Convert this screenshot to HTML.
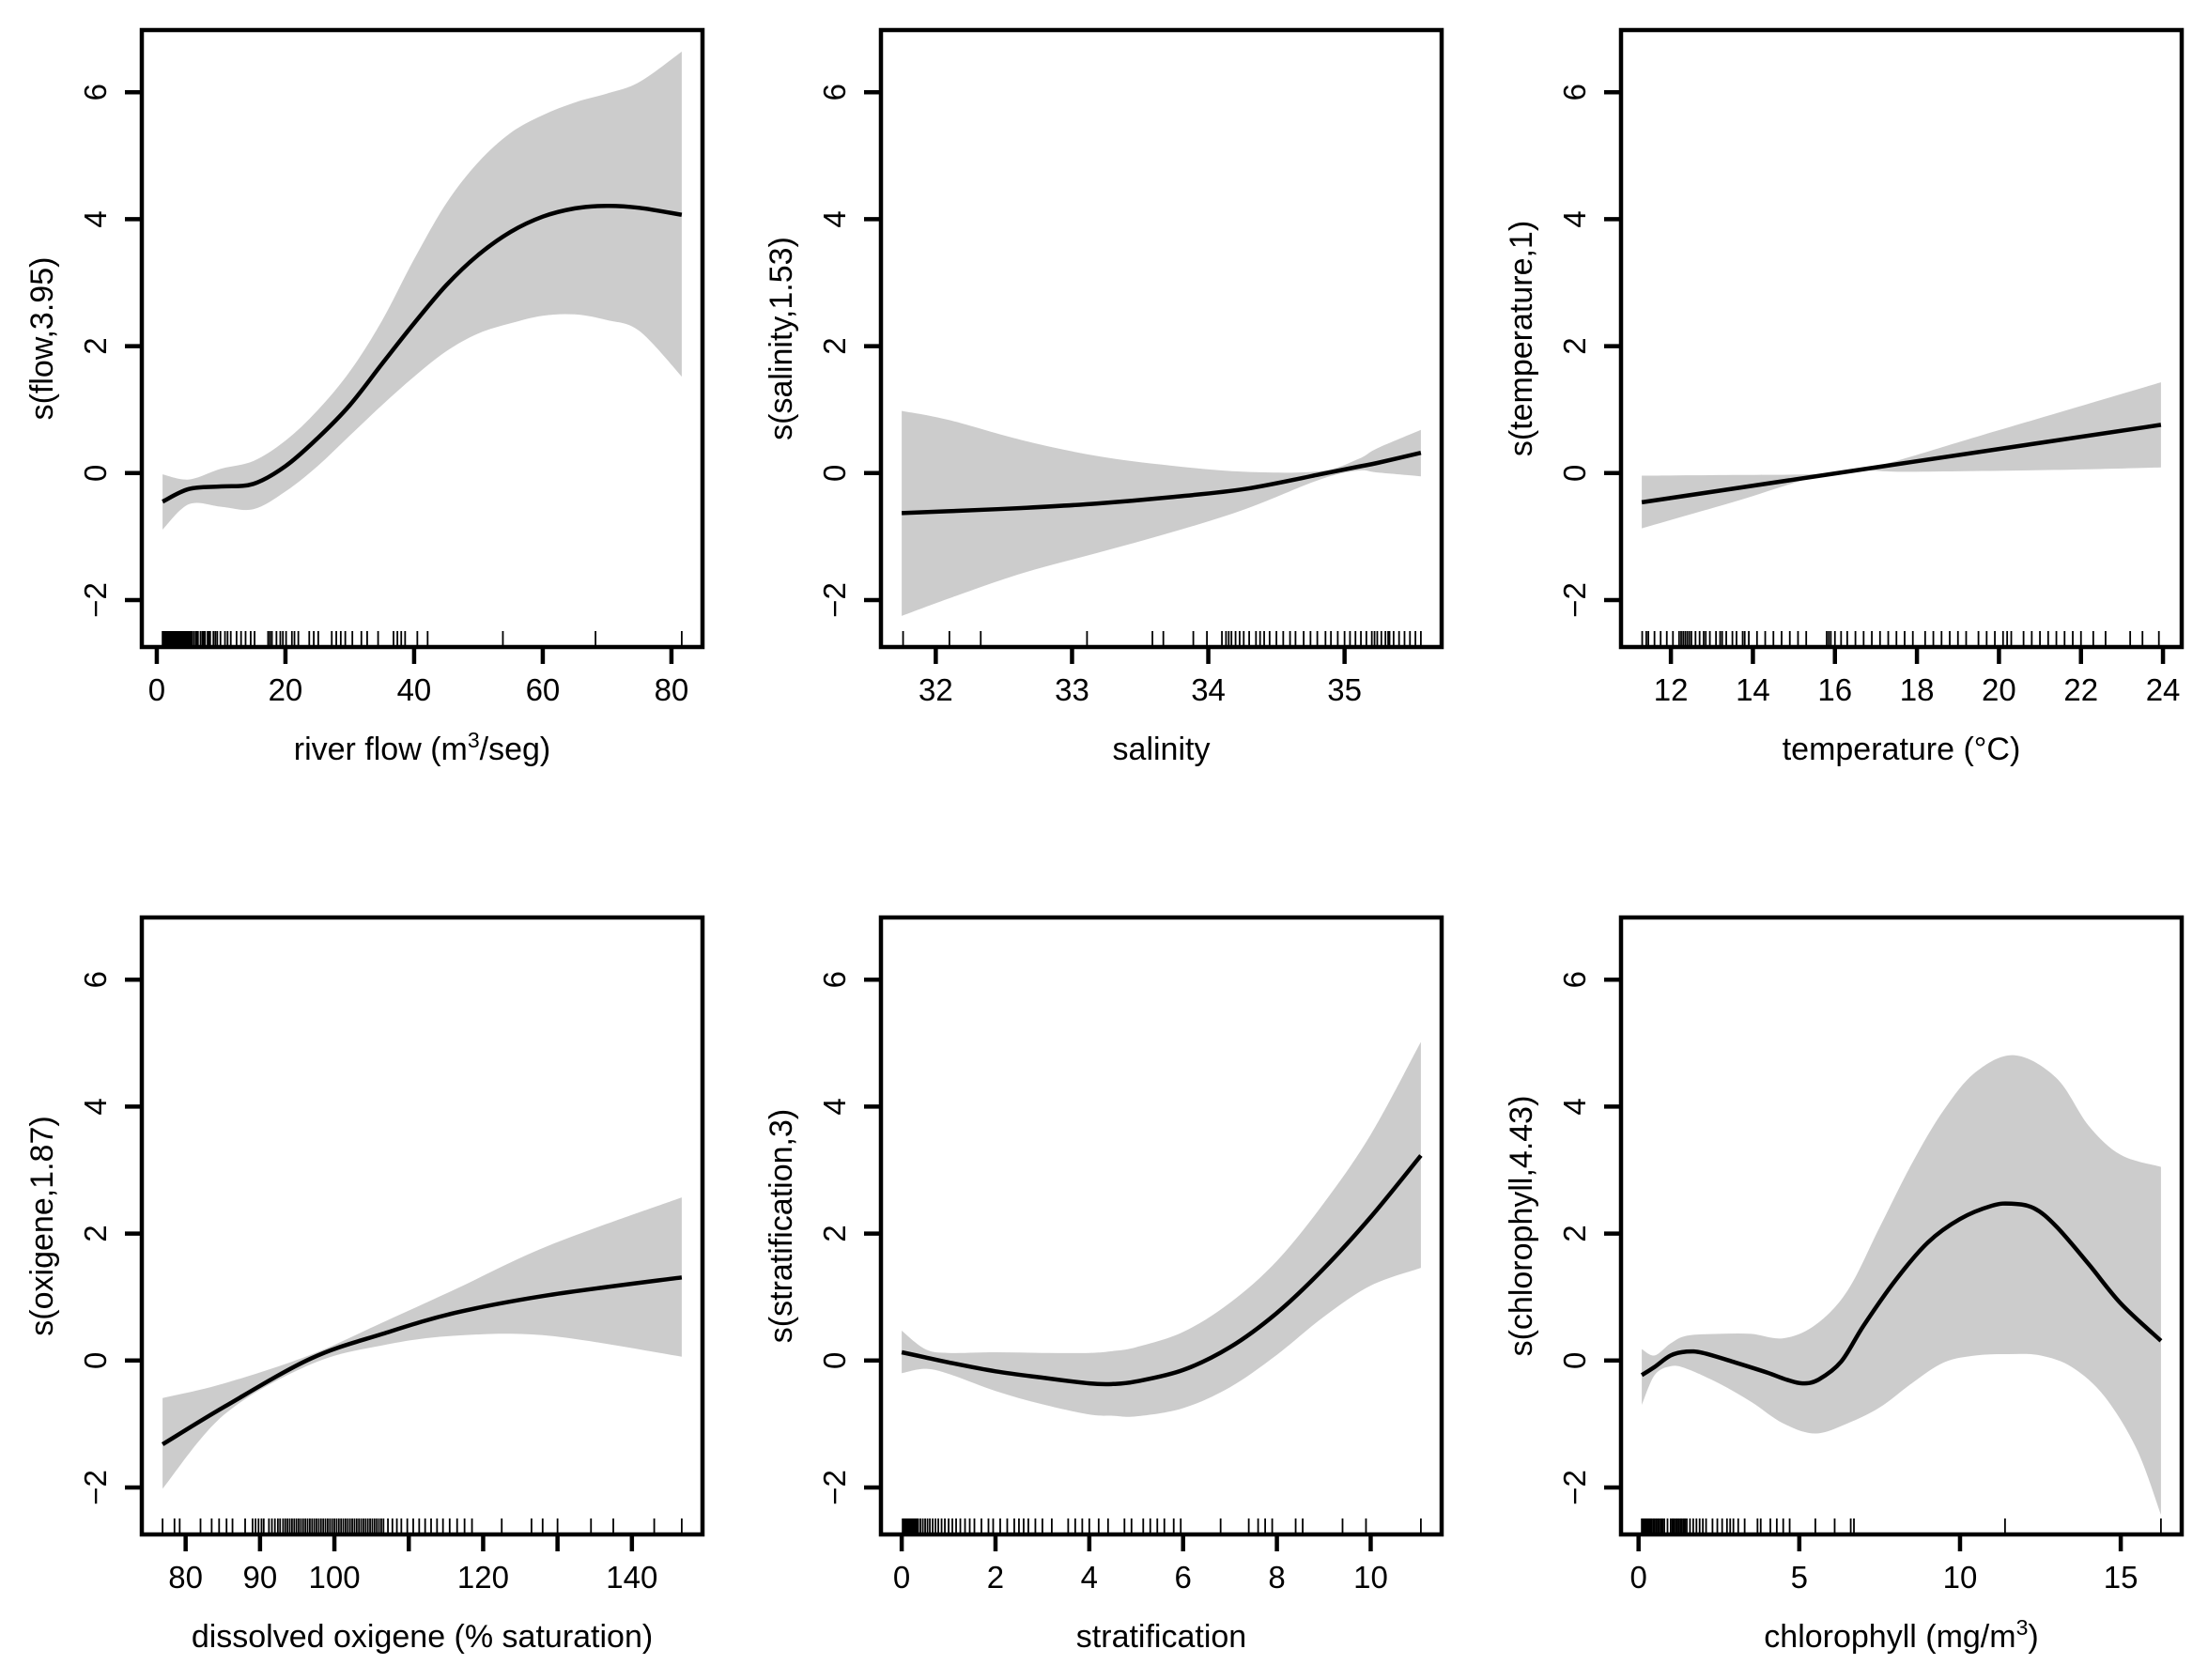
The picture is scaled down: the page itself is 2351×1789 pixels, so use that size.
<!DOCTYPE html>
<html><head><meta charset="utf-8">
<style>
html,body{margin:0;padding:0;background:#fff;}
svg text{font-family:"Liberation Sans",Arial,sans-serif;fill:#000;}
</style></head>
<body>
<svg id="fig" xmlns="http://www.w3.org/2000/svg" width="2351" height="1784" viewBox="0 0 2351 1784"></svg>
<script>
// ---- shared y axis ----
const yTicks = [-2, 0, 2, 4, 6];
const yLim = [-2.38, 6.62];

// ---- panel 1: flow ----
const flowX = [0.9, 5, 10, 15, 20, 25, 30, 35, 40, 45, 50, 55, 60, 65, 70, 75, 81.6];
const flowFit = [-0.45, -0.25, -0.21, -0.17, 0.11, 0.55, 1.07, 1.72, 2.36, 2.96, 3.44, 3.8, 4.04, 4.17, 4.21, 4.18, 4.07];
const flowUp = [-0.02, -0.1, 0.07, 0.19, 0.51, 0.99, 1.6, 2.4, 3.37, 4.25, 4.9, 5.36, 5.64, 5.84, 5.98, 6.16, 6.64];
const flowLo = [-0.89, -0.49, -0.53, -0.57, -0.29, 0.11, 0.59, 1.07, 1.52, 1.92, 2.2, 2.36, 2.48, 2.5, 2.41, 2.24, 1.52];
const flowRug = [0.9,1.0,1.1,1.2,1.3,1.4,1.5,1.6,1.7,1.8,1.9,2.0,2.1,2.2,2.3,2.4,2.5,2.6,2.7,2.8,2.9,3.0,3.1,3.2,3.3,3.4,3.5,3.6,3.7,3.8,3.9,4.0,4.1,4.2,4.3,4.4,4.5,4.6,4.7,4.8,4.9,5.0,5.2,5.4,5.5,5.8,6.1,6.2,6.4,6.8,7.1,7.3,7.5,7.9,8.1,8.3,8.8,9.1,9.4,9.9,10.6,11.0,11.5,12.4,13.1,13.8,14.6,15.2,17.3,17.6,17.9,18.6,19.2,19.6,20.1,21.0,21.4,22.0,23.7,24.4,25.1,27.2,27.9,28.6,29.3,30.4,31.8,32.7,34.4,36.8,37.4,38.0,38.6,40.5,42.1,53.8,68.2,81.6];
const flowTicks = [0, 20, 40, 60, 80];

// ---- panel 2: salinity ----
const salX = [31.75, 32.09, 32.63, 33.18, 33.72, 34.27, 34.82, 35.1, 35.24, 35.56];
const salFit = [-0.63, -0.6, -0.55, -0.48, -0.38, -0.25, -0.02, 0.1, 0.16, 0.32];
const salUp = [0.98, 0.84, 0.52, 0.27, 0.12, 0.02, 0.03, 0.22, 0.39, 0.68];
const salLo = [-2.25, -1.98, -1.58, -1.26, -0.94, -0.57, -0.1, 0.04, 0.01, -0.05];
const salRug = [31.76,32.1,32.33,33.11,33.59,33.67,33.89,33.99,34.1,34.13,34.15,34.17,34.2,34.23,34.26,34.3,34.35,34.38,34.41,34.45,34.5,34.55,34.6,34.64,34.7,34.75,34.8,34.86,34.9,34.95,35.0,35.04,35.08,35.12,35.16,35.2,35.22,35.24,35.27,35.3,35.32,35.33,35.36,35.4,35.44,35.48,35.52,35.56];
const salTicks = [32, 33, 34, 35];

// ---- panel 3: temperature ----
const tempX = [11.29, 23.95];
const tempFit = [-0.46, 0.76];
const tempUpX = [11.29, 13.5, 15.7, 16.96, 19.6, 23.95];
const tempUp = [-0.04, -0.03, -0.01, 0.1, 0.6, 1.43];
const tempLoX = [11.29, 13.5, 16.0, 17.83, 21.35, 23.95];
const tempLo = [-0.87, -0.46, 0.01, 0.02, 0.05, 0.09];
const tempRug = [11.3,11.4,11.45,11.6,11.75,11.9,12.05,12.2,12.25,12.3,12.35,12.4,12.45,12.5,12.6,12.7,12.8,12.85,12.95,13.1,13.2,13.25,13.35,13.5,13.6,13.75,13.8,13.9,14.1,14.3,14.5,14.7,14.9,15.1,15.3,15.8,15.85,15.9,16.0,16.15,16.3,16.5,16.7,16.9,17.1,17.3,17.5,17.7,17.9,18.2,18.4,18.6,18.8,19.0,19.2,19.5,19.7,19.9,20.1,20.2,20.3,20.6,20.8,21.0,21.2,21.4,21.6,21.8,22.0,22.3,22.6,23.2,23.5,23.9];
const tempTicks = [12, 14, 16, 18, 20, 22, 24];

// ---- panel 4: oxygen ----
const oxX = [76.9, 85.2, 96.8, 106.5, 116.2, 128.8, 146.7];
const oxFit = [-1.32, -0.73, 0.03, 0.42, 0.75, 1.03, 1.31];
const oxUp = [-0.59, -0.36, 0.09, 0.6, 1.12, 1.81, 2.57];
const oxLo = [-2.02, -0.85, -0.06, 0.24, 0.39, 0.39, 0.06];
const oxRug = [76.9,78.5,79.2,82,83.5,84.5,85.5,86.3,88,89,89.4,89.8,90.2,90.5,91.2,91.6,92,92.4,92.7,93.1,93.4,93.7,94,94.3,94.6,94.9,95.2,95.5,95.8,96.1,96.4,96.7,97,97.3,97.6,97.9,98.2,98.5,98.8,99.1,99.4,99.7,100,100.3,100.6,100.9,101.2,101.5,101.8,102.1,102.4,102.7,103,103.3,103.6,103.9,104.2,104.5,104.8,105.1,105.4,105.7,106,106.3,106.6,107.2,107.8,108.4,109,109.8,110.6,111.4,112.2,113,113.8,114.6,115.5,116.5,117.5,118.5,122.5,126.5,128,130,134.5,137.5,143,146.7];
const oxTicks = [80, 90, 100, 110, 120, 130, 140];
const oxLabels = ['80', '90', '100', '', '120', '', '140'];

// ---- panel 5: stratification ----
const stX = [0, 0.5, 1, 2, 3, 4, 4.5, 5, 6, 7, 8, 9, 10, 11.07];
const stFit = [0.13, 0.05, -0.03, -0.17, -0.27, -0.36, -0.37, -0.33, -0.15, 0.21, 0.75, 1.45, 2.26, 3.23];
const stUp = [0.47, 0.18, 0.12, 0.13, 0.12, 0.12, 0.15, 0.21, 0.45, 0.91, 1.57, 2.48, 3.56, 5.02];
const stLo = [-0.2, -0.13, -0.21, -0.48, -0.69, -0.85, -0.87, -0.88, -0.75, -0.42, 0.09, 0.69, 1.18, 1.46];
const stRug = [0.02,0.04,0.06,0.08,0.1,0.12,0.14,0.16,0.18,0.2,0.22,0.24,0.26,0.28,0.3,0.33,0.35,0.4,0.45,0.5,0.55,0.6,0.66,0.72,0.78,0.85,0.92,1.0,1.08,1.16,1.25,1.35,1.45,1.55,1.7,1.85,1.95,2.1,2.25,2.4,2.5,2.6,2.7,2.85,3.0,3.2,3.55,3.7,3.85,4.0,4.2,4.4,4.75,4.9,5.15,5.3,5.45,5.6,5.8,5.95,6.8,7.4,7.6,7.75,7.9,8.4,8.55,9.4,9.9,11.07];
const stTicks = [0, 2, 4, 6, 8, 10];

// ---- panel 6: chlorophyll ----
const chX = [0.1, 0.5, 1, 1.5, 2, 3, 4, 4.6, 5.1, 5.6, 6.3, 7, 8, 9, 10, 11, 11.6, 12.3, 13, 14, 15, 16.25];
const chFit = [-0.23, -0.1, 0.08, 0.14, 0.12, -0.03, -0.19, -0.3, -0.36, -0.3, -0.02, 0.55, 1.27, 1.86, 2.23, 2.44, 2.47, 2.4, 2.11, 1.52, 0.9, 0.31];
const chUpX = [0.1, 0.5, 1, 1.5, 2.5, 3.5, 4.5, 5.5, 6.5, 7.5, 8.5, 9.5, 10.5, 11.7, 13, 14, 15, 16.25];
const chUp = [0.18, 0.08, 0.27, 0.39, 0.42, 0.42, 0.35, 0.56, 1.1, 2.1, 3.1, 3.95, 4.55, 4.81, 4.45, 3.7, 3.24, 3.05];
const chLoX = [0.1, 0.5, 1, 1.5, 2.5, 3.5, 4.5, 5.5, 6.5, 7.5, 8.5, 9.5, 10.5, 11.5, 12.5, 13.5, 14.5, 15.5, 16.25];
const chLo = [-0.7, -0.23, -0.09, -0.13, -0.36, -0.65, -0.99, -1.15, -0.99, -0.74, -0.36, -0.03, 0.08, 0.1, 0.08, -0.11, -0.57, -1.4, -2.43];
const chRug = [0.1,0.13,0.15,0.18,0.2,0.23,0.25,0.28,0.3,0.33,0.35,0.4,0.45,0.5,0.55,0.6,0.65,0.7,0.75,0.8,0.9,1.0,1.05,1.1,1.15,1.2,1.25,1.3,1.35,1.4,1.45,1.5,1.6,1.7,1.8,1.9,2.0,2.1,2.3,2.45,2.6,2.75,2.85,2.95,3.1,3.3,3.7,3.8,4.1,4.3,4.5,4.7,5.5,6.1,6.6,6.7,11.4,16.25];
const chTicks = [0, 5, 10, 15];

const NS = 'http://www.w3.org/2000/svg';
const svg = document.getElementById('fig');
const W = 597, H = 657;

function mk(tag, attrs, parent) {
  const e = document.createElementNS(NS, tag);
  for (const k in attrs) e.setAttribute(k, attrs[k]);
  parent.appendChild(e);
  return e;
}
function smoothPath(pts) {
  let d = 'M' + pts[0][0].toFixed(1) + ',' + pts[0][1].toFixed(1);
  for (let i = 0; i < pts.length - 1; i++) {
    const p0 = pts[i - 1] || pts[i], p1 = pts[i], p2 = pts[i + 1], p3 = pts[i + 2] || p2;
    const c1 = [p1[0] + (p2[0] - p0[0]) / 6, p1[1] + (p2[1] - p0[1]) / 6];
    const c2 = [p2[0] - (p3[0] - p1[0]) / 6, p2[1] - (p3[1] - p1[1]) / 6];
    d += 'C' + c1.map(v => v.toFixed(1)).join(',') + ' ' + c2.map(v => v.toFixed(1)).join(',') + ' ' + p2[0].toFixed(1) + ',' + p2[1].toFixed(1);
  }
  return d;
}

function panel(cfg) {
  const g = mk('g', {}, svg);
  
  
  const L = cfg.left, T = cfg.top, B = T + H, R = L + W;
  const ext = (cfg.xMax - cfg.xMin) * 0.04;
  const x0 = cfg.xMin - ext, x1 = cfg.xMax + ext;
  const sx = v => L + (v - x0) / (x1 - x0) * W;
  const sy = v => T + (yLim[1] + (yLim[1] - yLim[0]) * 0.04 - v) / ((yLim[1] - yLim[0]) * 1.08) * H;

  const up = cfg.upX.map((x, i) => [sx(x), sy(cfg.up[i])]);
  const lo = cfg.loX.map((x, i) => [sx(x), sy(cfg.lo[i])]).reverse();
  let d = smoothPath(up);
  d += 'L' + lo[0][0].toFixed(1) + ',' + lo[0][1].toFixed(1) + smoothPath(lo).replace(/^M[^C]*/, '') + 'Z';
  const band = mk('path', { d: d, fill: '#cccccc', stroke: 'none' }, g);
  
  

  const fit = mk('path', { d: smoothPath(cfg.fitX.map((x, i) => [sx(x), sy(cfg.fit[i])])), fill: 'none', stroke: '#000', 'stroke-width': 4.5, 'stroke-linejoin': 'round' }, g);
  
  

  const rg = mk('g', { stroke: '#000', 'stroke-width': 1.8 }, g);
  
  
  cfg.rug.forEach(v => { mk('line', { x1: sx(v), x2: sx(v), y1: B, y2: B - 17 }, rg); });

  const box = mk('rect', { x: L, y: T, width: W, height: H, fill: 'none', stroke: '#000', 'stroke-width': 4.5 }, g);
  
  

  const xa = mk('g', {}, g);
  
  
  cfg.xTicks.forEach((v, i) => {
    mk('line', { x1: sx(v), x2: sx(v), y1: B, y2: B + 18, stroke: '#000', 'stroke-width': 4.5 }, xa);
    const lab = cfg.xLabels ? cfg.xLabels[i] : String(v);
    if (lab) {
      const t = mk('text', { x: sx(v), y: B + 57, 'text-anchor': 'middle', 'font-size': 33 }, xa);
      t.textContent = lab;
    }
  });
  const xt = mk('text', { x: (L + R) / 2, y: B + 120, 'text-anchor': 'middle', 'font-size': 34 }, g);
  
  
  xt.innerHTML = cfg.xTitle;

  const ya = mk('g', {}, g);
  
  
  yTicks.forEach(v => {
    mk('line', { x1: L, x2: L - 18, y1: sy(v), y2: sy(v), stroke: '#000', 'stroke-width': 4.5 }, ya);
    const t = mk('text', { x: 0, y: 0, 'text-anchor': 'middle', 'font-size': 33, transform: 'translate(' + (L - 38) + ',' + sy(v) + ') rotate(-90)' }, ya);
    t.textContent = v < 0 ? '\u2212' + Math.abs(v) : String(v);
  });
  const yt = mk('text', { x: 0, y: 0, 'text-anchor': 'middle', 'font-size': 34, transform: 'translate(' + (L - 95) + ',' + ((T + B) / 2) + ') rotate(-90)' }, g);
  
  
  yt.textContent = cfg.yTitle;
}

const sup3 = '<tspan font-size="23" dy="-13">3</tspan><tspan dy="13">';
panel({ name: 'flow', left: 151, top: 32, xMin: 0.9, xMax: 81.6, fitX: flowX, fit: flowFit, upX: flowX, up: flowUp, loX: flowX, lo: flowLo, rug: flowRug, xTicks: flowTicks, xTitle: 'river flow (m' + sup3 + '/seg)</tspan>', yTitle: 's(flow,3.95)' });
panel({ name: 'salinity', left: 938, top: 32, xMin: 31.75, xMax: 35.56, fitX: salX, fit: salFit, upX: salX, up: salUp, loX: salX, lo: salLo, rug: salRug, xTicks: salTicks, xTitle: 'salinity', yTitle: 's(salinity,1.53)' });
panel({ name: 'temperature', left: 1726, top: 32, xMin: 11.29, xMax: 23.95, fitX: tempX, fit: tempFit, upX: tempUpX, up: tempUp, loX: tempLoX, lo: tempLo, rug: tempRug, xTicks: tempTicks, xTitle: 'temperature (\u00B0C)', yTitle: 's(temperature,1)' });
panel({ name: 'oxygen', left: 151, top: 977, xMin: 76.9, xMax: 146.7, fitX: oxX, fit: oxFit, upX: oxX, up: oxUp, loX: oxX, lo: oxLo, rug: oxRug, xTicks: oxTicks, xLabels: oxLabels, xTitle: 'dissolved oxigene (% saturation)', yTitle: 's(oxigene,1.87)' });
panel({ name: 'stratification', left: 938, top: 977, xMin: 0, xMax: 11.07, fitX: stX, fit: stFit, upX: stX, up: stUp, loX: stX, lo: stLo, rug: stRug, xTicks: stTicks, xTitle: 'stratification', yTitle: 's(stratification,3)' });
panel({ name: 'chlorophyll', left: 1726, top: 977, xMin: 0.1, xMax: 16.25, fitX: chX, fit: chFit, upX: chUpX, up: chUp, loX: chLoX, lo: chLo, rug: chRug, xTicks: chTicks, xTitle: 'chlorophyll (mg/m' + sup3 + ')</tspan>', yTitle: 's(chlorophyll,4.43)' });
</script>
</body></html>
